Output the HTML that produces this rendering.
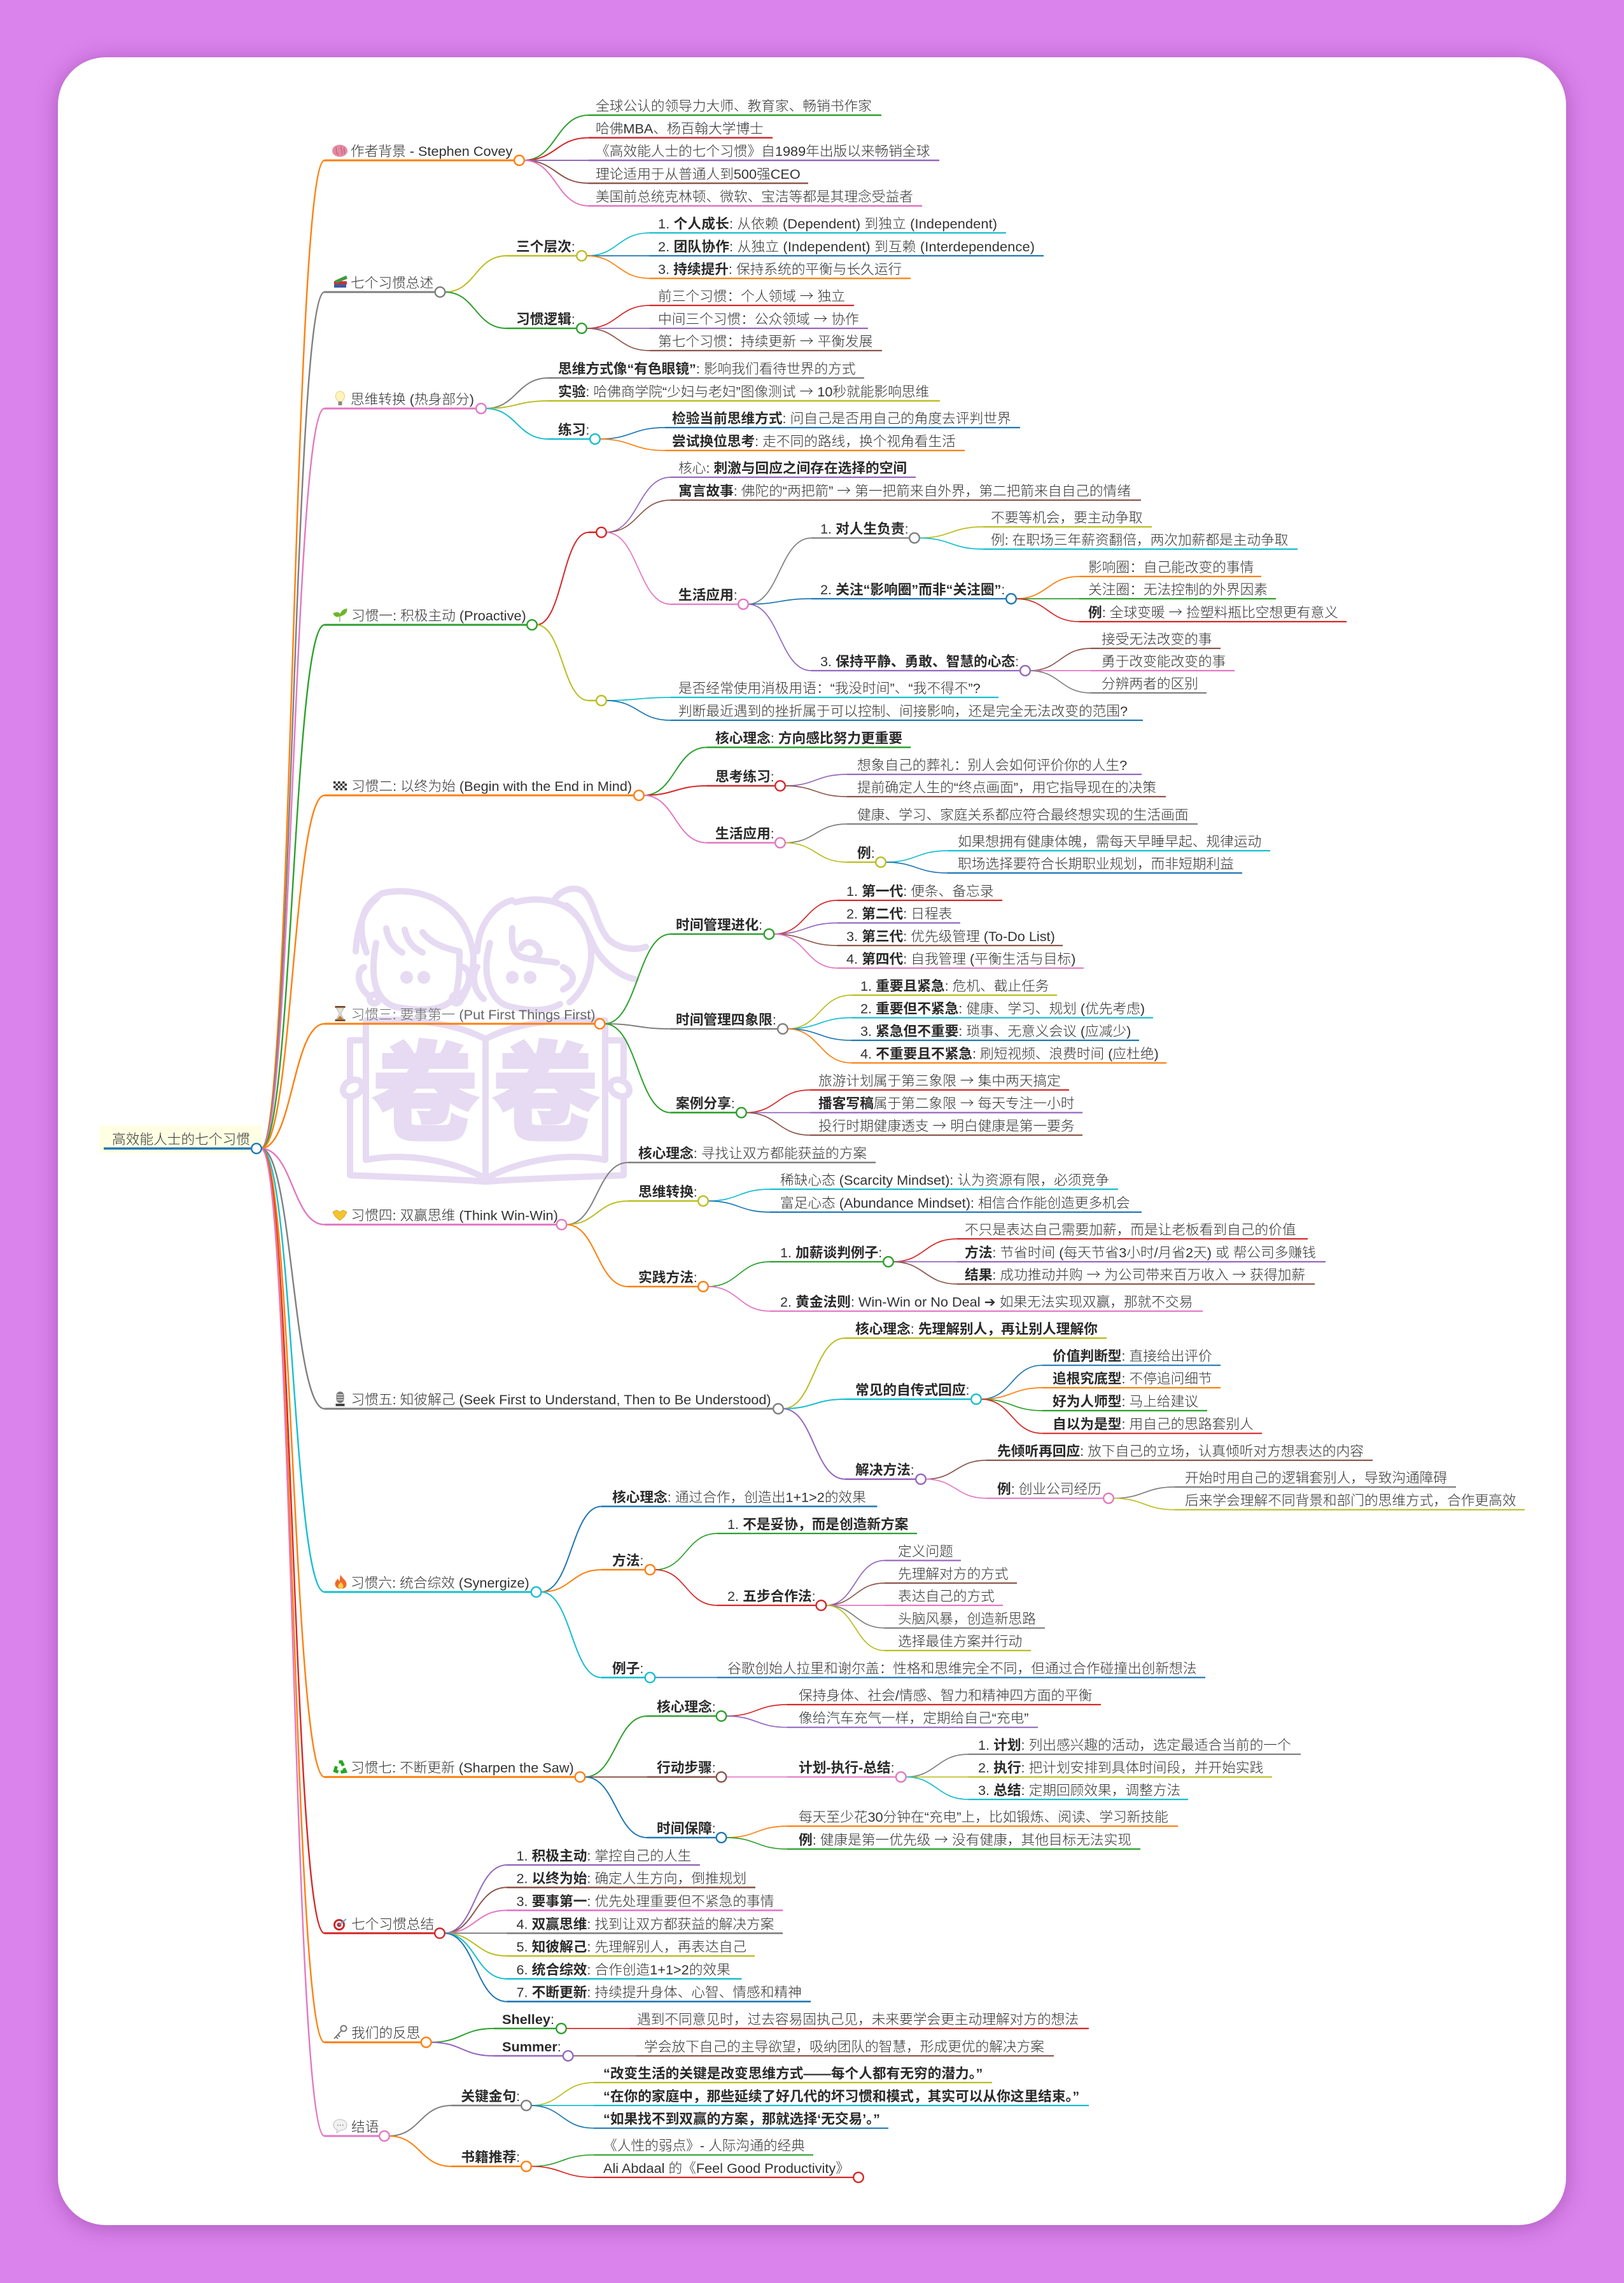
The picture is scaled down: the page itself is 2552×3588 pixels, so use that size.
<!DOCTYPE html>
<html lang="zh"><head><meta charset="utf-8"><title>高效能人士的七个习惯</title>
<style>
html,body{margin:0;padding:0;width:2552px;height:3588px;overflow:hidden;background:#db83ec}
#card{position:absolute;left:91px;top:90px;width:2370px;height:3407px;background:#fff;border-radius:75px;box-shadow:0 4px 34px rgba(90,20,110,.38)}
svg{position:absolute;left:0;top:0}
text{font-family:"Liberation Sans","Noto Sans CJK SC",sans-serif;font-size:21.7px;fill:#333;font-weight:300}
.b{font-weight:700;fill:#2a2a2a}
.a{font-family:"Noto Sans CJK SC",sans-serif}
circle.n{fill:#fff;stroke-width:2.4}
.k1{stroke-width:2.4}.k2{stroke-width:2}.k3{stroke-width:1.7}
.u1{stroke-width:3}.u2{stroke-width:2.6}.u3{stroke-width:2.2}
.B{stroke:#1f77b4}.O{stroke:#ff7f0e}.G{stroke:#2ca02c}.R{stroke:#d62728}.P{stroke:#9467bd}.W{stroke:#8c564b}.I{stroke:#e377c2}.Y{stroke:#7f7f7f}.L{stroke:#bcbd22}.C{stroke:#17becf}
.wm{fill:none;stroke:#e6dbf2;stroke-width:10;stroke-linecap:round;stroke-linejoin:round}
</style></head><body>
<div id="card"></div>
<svg width="2552" height="3588" viewBox="0 0 2552 3588" fill="none" xmlns="http://www.w3.org/2000/svg">
<!-- watermark -->
<g class="wm">
<path d="M576 1497C552 1430 590 1412 600 1404C660 1390 735 1420 744 1503C744 1530 738 1550 724 1572"/>
<path d="M559 1495C562 1450 575 1425 592 1412"/>
<path d="M591 1482C582 1530 586 1570 620 1582C660 1590 700 1590 716 1565C722 1540 722 1520 722 1495C695 1490 675 1480 664 1465"/>
<path d="M607 1459C610 1480 620 1490 632 1497M636 1461C640 1480 650 1490 664 1497"/>
<path d="M572 1520C560 1525 560 1550 580 1565M728 1520C742 1525 740 1550 722 1565"/>
<circle cx="588" cy="1570" r="7"/><circle cx="717" cy="1570" r="7"/>
<path d="M750 1495C752 1450 780 1420 805 1415M810 1418C880 1400 929 1440 929 1500C929 1530 915 1560 895 1575"/>
<path d="M770 1482C756 1530 770 1570 795 1580C830 1590 860 1590 880 1578M805 1459C803 1480 805 1500 822 1505C840 1510 860 1510 875 1513M818 1490C825 1475 845 1480 848 1495C848 1505 835 1510 825 1505"/>
<path d="M750 1520C742 1530 742 1555 760 1570M885 1520C905 1530 905 1545 885 1555"/>
<path d="M872 1413C880 1400 900 1392 915 1400C935 1415 935 1450 955 1475C970 1490 995 1495 1015 1488"/>
<path d="M890 1423C915 1440 925 1470 935 1490C950 1515 975 1535 999 1539"/>
<path d="M575 1604V1823C640 1810 710 1825 757 1849M951 1604V1823C890 1810 815 1825 770 1849"/>
<path d="M575 1604C640 1600 710 1605 763 1633C815 1605 885 1600 951 1604"/>
<path d="M763 1633V1857"/>
<path d="M575 1635H550V1692M550 1728V1847C620 1850 700 1852 763 1857C830 1852 910 1850 980 1847V1728M980 1692V1635H951"/>
<ellipse cx="554" cy="1710" rx="16" ry="12" transform="rotate(-30 554 1710)"/>
<ellipse cx="974" cy="1710" rx="16" ry="12" transform="rotate(30 974 1710)"/>
</g>
<circle cx="639" cy="1536" r="10" fill="#e6dbf2"/><circle cx="666" cy="1536" r="10" fill="#e6dbf2"/><circle cx="805" cy="1536" r="10" fill="#e6dbf2"/><circle cx="833" cy="1536" r="10" fill="#e6dbf2"/>
<text x="584" y="1778" style="font-size:168px;font-weight:900;fill:#e6dbf2;stroke:#e6dbf2;stroke-width:4;font-family:'Noto Sans CJK SC',sans-serif">卷</text>
<text x="773" y="1778" style="font-size:168px;font-weight:900;fill:#e6dbf2;stroke:#e6dbf2;stroke-width:4;font-family:'Noto Sans CJK SC',sans-serif">卷</text>

<!-- root -->
<rect x="156" y="1769" width="255" height="43" fill="#ffffe3"/>
<path class="B" stroke-width="3.4" d="M163 1805H403"/>

<!-- level 1 links -->
<g class="k1">
<path class="O" d="M410 1805C460 1805 460 252 510 252"/>
<path class="Y" d="M410 1805C460 1805 460 459 510 459"/>
<path class="I" d="M410 1805C460 1805 460 642 510 642"/>
<path class="G" d="M410 1805C460 1805 460 982 510 982"/>
<path class="O" d="M410 1805C460 1805 460 1250 510 1250"/>
<path class="O" d="M410 1805C460 1805 460 1609 510 1609"/>
<path class="I" d="M410 1805C460 1805 460 1924.6 510 1924.6"/>
<path class="Y" d="M410 1805C460 1805 460 2214 510 2214"/>
<path class="C" d="M410 1805C460 1805 460 2502 510 2502"/>
<path class="O" d="M410 1805C460 1805 460 2792.7 510 2792.7"/>
<path class="R" d="M410 1805C460 1805 460 3038.3 510 3038.3"/>
<path class="O" d="M410 1805C460 1805 460 3209.7 510 3209.7"/>
<path class="I" d="M410 1805C460 1805 460 3357 510 3357"/>
</g>
<g class="u1">
<path class="O" d="M510 252H816"/><path class="Y" d="M510 459H691"/><path class="I" d="M510 642H756"/><path class="G" d="M510 982H836"/><path class="O" d="M510 1250H1004"/><path class="O" d="M510 1609H942"/><path class="I" d="M510 1924.6H882"/><path class="Y" d="M510 2214H1223"/><path class="C" d="M510 2502H843"/><path class="O" d="M510 2792.7H911"/><path class="R" d="M510 3038.3H691"/><path class="O" d="M510 3209.7H670"/><path class="I" d="M510 3357H604"/>
</g>

<!-- level 2 links and underlines -->
<g class="k2">
<path class="G" d="M823 252C874 252 874 181 925 181"/><path class="R" d="M823 252C874 252 874 216.5 925 216.5"/><path class="P" d="M823 252H925"/><path class="W" d="M823 252C874 252 874 288 925 288"/><path class="I" d="M823 252C874 252 874 323.6 925 323.6"/>
<path class="L" d="M699 459C747 459 747 402 796 402"/><path class="G" d="M699 459C747 459 747 516 796 516"/>
<path class="Y" d="M763 642C812 642 812 594 862 594"/><path class="L" d="M763 642C812 642 812 630 862 630"/><path class="C" d="M763 642C812 642 812 690 862 690"/>
<path class="R" d="M843 982C884 982 884 836.6 925 836.6"/><path class="L" d="M843 982C884 982 884 1101 925 1101"/>
<path class="G" d="M1011 1250C1061 1250 1061 1174.5 1111 1174.5"/><path class="R" d="M1011 1250C1061 1250 1061 1235 1111 1235"/><path class="I" d="M1011 1250C1061 1250 1061 1324.5 1111 1324.5"/>
<path class="G" d="M950 1609C1002 1609 1002 1468 1054 1468"/><path class="Y" d="M950 1609C1002 1609 1002 1617 1054 1617"/><path class="G" d="M950 1609C1002 1609 1002 1748.6 1054 1748.6"/>
<path class="Y" d="M890 1924.6C938 1924.6 938 1827 987 1827"/><path class="L" d="M890 1924.6C938 1924.6 938 1887.5 987 1887.5"/><path class="O" d="M890 1924.6C938 1924.6 938 2022 987 2022"/>
<path class="L" d="M1230 2214C1279 2214 1279 2103 1328 2103"/><path class="C" d="M1230 2214C1279 2214 1279 2199 1328 2199"/><path class="P" d="M1230 2214C1279 2214 1279 2324.7 1328 2324.7"/>
<path class="B" d="M850 2502C898 2502 898 2367.5 945 2367.5"/><path class="O" d="M850 2502C898 2502 898 2467 945 2467"/><path class="C" d="M850 2502C898 2502 898 2636.4 945 2636.4"/>
<path class="G" d="M919 2792.7C968 2792.7 968 2697 1017 2697"/><path class="W" d="M919 2792.7H1017"/><path class="B" d="M919 2792.7C968 2792.7 968 2888 1017 2888"/>
<path class="P" d="M698 3038.3C747 3038.3 747 2931 796.5 2931"/><path class="W" d="M698 3038.3C747 3038.3 747 2966.3 796.5 2966.3"/><path class="I" d="M698 3038.3C747 3038.3 747 3002.3 796.5 3002.3"/><path class="Y" d="M698 3038.3H796.5"/><path class="L" d="M698 3038.3C747 3038.3 747 3074 796.5 3074"/><path class="C" d="M698 3038.3C747 3038.3 747 3110 796.5 3110"/><path class="B" d="M698 3038.3C747 3038.3 747 3145.7 796.5 3145.7"/>
<path class="G" d="M677 3209.7C726 3209.7 726 3188 776 3188"/><path class="P" d="M677 3209.7C726 3209.7 726 3231 776 3231"/>
<path class="Y" d="M611 3357C660 3357 660 3309 709.5 3309"/><path class="O" d="M611 3357C660 3357 660 3404.7 709.5 3404.7"/>
</g>
<g class="u2">
<path class="G" d="M925 181H1385"/><path class="R" d="M925 216.5H1214"/><path class="P" d="M925 252H1476"/><path class="W" d="M925 288H1270"/><path class="I" d="M925 323.6H1449"/>
<path class="L" d="M796 402H914"/><path class="G" d="M796 516H914"/>
<path class="Y" d="M862 594H1358"/><path class="L" d="M862 630H1477"/><path class="C" d="M862 690H935"/>
<path class="R" d="M925 836.6H945"/><path class="L" d="M925 1101H945"/>
<path class="G" d="M1111 1174.5H1431"/><path class="R" d="M1111 1235H1226"/><path class="I" d="M1111 1324.5H1226"/>
<path class="G" d="M1054 1468H1208"/><path class="Y" d="M1054 1617H1230"/><path class="G" d="M1054 1748.6H1165"/>
<path class="Y" d="M987 1827H1376"/><path class="L" d="M987 1887.5H1105"/><path class="O" d="M987 2022H1105"/>
<path class="L" d="M1328 2103H1739"/><path class="C" d="M1328 2199H1534"/><path class="P" d="M1328 2324.7H1447"/>
<path class="B" d="M945 2367.5H1378.5"/><path class="O" d="M945 2467H1021"/><path class="C" d="M945 2636.4H1021"/>
<path class="G" d="M1017 2697H1133"/><path class="W" d="M1017 2792.7H1133"/><path class="B" d="M1017 2888H1133"/>
<path class="P" d="M796.5 2931H1100"/><path class="W" d="M796.5 2966.3H1187"/><path class="I" d="M796.5 3002.3H1230"/><path class="Y" d="M796.5 3038.3H1230"/><path class="L" d="M796.5 3074H1186"/><path class="C" d="M796.5 3110H1165.5"/><path class="B" d="M796.5 3145.7H1274"/>
<path class="G" d="M776 3188H882"/><path class="P" d="M776 3231H893"/>
<path class="Y" d="M709.5 3309H827"/><path class="O" d="M709.5 3404.7H827"/>
</g>

<!-- level 3+ links -->
<g class="k3">
<path class="C" d="M922 402C971 402 971 366 1021 366"/><path class="B" d="M922 402H1021"/><path class="O" d="M922 402C971 402 971 437.5 1021 437.5"/>
<path class="R" d="M922 516C971 516 971 480 1021 480"/><path class="P" d="M922 516H1021"/><path class="W" d="M922 516C971 516 971 551 1021 551"/>
<path class="B" d="M942 690C993 690 993 672 1045 672"/><path class="O" d="M942 690C993 690 993 708 1045 708"/>
<path class="P" d="M952 836.6C1003 836.6 1003 750 1054 750"/><path class="W" d="M952 836.6C1003 836.6 1003 786 1054 786"/><path class="I" d="M952 836.6C1003 836.6 1003 949.6 1054 949.6"/>
<path class="Y" d="M1175 949.6C1225 949.6 1225 845.5 1275 845.5"/><path class="B" d="M1175 949.6C1225 949.6 1225 941 1275 941"/><path class="P" d="M1175 949.6C1225 949.6 1225 1054 1275 1054"/>
<path class="L" d="M1444 845.5C1494 845.5 1494 828 1545 828"/><path class="C" d="M1444 845.5C1494 845.5 1494 863 1545 863"/>
<path class="O" d="M1596 941C1646 941 1646 906 1696 906"/><path class="G" d="M1596 941H1696"/><path class="R" d="M1596 941C1646 941 1646 977 1696 977"/>
<path class="W" d="M1618 1054C1666 1054 1666 1019 1714 1019"/><path class="I" d="M1618 1054H1714"/><path class="Y" d="M1618 1054C1666 1054 1666 1089 1714 1089"/>
<path class="C" d="M952 1101C1003 1101 1003 1096 1054 1096"/><path class="B" d="M952 1101C1003 1101 1003 1132 1054 1132"/>
<path class="P" d="M1233 1235C1282 1235 1282 1217 1331 1217"/><path class="W" d="M1233 1235C1282 1235 1282 1252 1331 1252"/>
<path class="Y" d="M1233 1324.5C1282 1324.5 1282 1295 1331 1295"/><path class="L" d="M1233 1324.5C1282 1324.5 1282 1355 1331 1355"/>
<path class="C" d="M1391 1355C1440 1355 1440 1337 1489 1337"/><path class="B" d="M1391 1355C1440 1355 1440 1372 1489 1372"/>
<path class="R" d="M1216 1468C1266 1468 1266 1415 1316 1415"/><path class="P" d="M1216 1468C1266 1468 1266 1450.5 1316 1450.5"/><path class="W" d="M1216 1468C1266 1468 1266 1486 1316 1486"/><path class="I" d="M1216 1468C1266 1468 1266 1521.5 1316 1521.5"/>
<path class="L" d="M1237 1617C1288 1617 1288 1564 1338 1564"/><path class="C" d="M1237 1617C1288 1617 1288 1599.5 1338 1599.5"/><path class="B" d="M1237 1617C1288 1617 1288 1635 1338 1635"/><path class="O" d="M1237 1617C1288 1617 1288 1670.5 1338 1670.5"/>
<path class="R" d="M1172 1748.6C1222 1748.6 1222 1713 1273 1713"/><path class="P" d="M1172 1748.6H1273"/><path class="W" d="M1172 1748.6C1222 1748.6 1222 1784 1273 1784"/>
<path class="C" d="M1112 1887.5C1161 1887.5 1161 1869 1210 1869"/><path class="B" d="M1112 1887.5C1161 1887.5 1161 1905 1210 1905"/>
<path class="G" d="M1112 2022C1161 2022 1161 1983 1210 1983"/><path class="I" d="M1112 2022C1161 2022 1161 2060.6 1210 2060.6"/>
<path class="R" d="M1403 1983C1453 1983 1453 1947 1504 1947"/><path class="P" d="M1403 1983H1504"/><path class="W" d="M1403 1983C1453 1983 1453 2018 1504 2018"/>
<path class="B" d="M1541 2199C1590 2199 1590 2145.7 1638 2145.7"/><path class="O" d="M1541 2199C1590 2199 1590 2181 1638 2181"/><path class="G" d="M1541 2199C1590 2199 1590 2217 1638 2217"/><path class="R" d="M1541 2199C1590 2199 1590 2252.7 1638 2252.7"/>
<path class="W" d="M1454 2324.7C1502 2324.7 1502 2295 1550 2295"/><path class="I" d="M1454 2324.7C1502 2324.7 1502 2354.7 1550 2354.7"/>
<path class="Y" d="M1749 2354.7C1798 2354.7 1798 2337 1846 2337"/><path class="L" d="M1749 2354.7C1798 2354.7 1798 2372.7 1846 2372.7"/>
<path class="G" d="M1029 2467C1078 2467 1078 2410 1127 2410"/><path class="R" d="M1029 2467C1078 2467 1078 2523 1127 2523"/>
<path class="P" d="M1298 2523C1344 2523 1344 2452.5 1390 2452.5"/><path class="W" d="M1298 2523C1344 2523 1344 2488 1390 2488"/><path class="I" d="M1298 2523H1390"/><path class="Y" d="M1298 2523C1344 2523 1344 2558.6 1390 2558.6"/><path class="L" d="M1298 2523C1344 2523 1344 2594 1390 2594"/>
<path class="B" d="M1029 2636.4H1127"/>
<path class="R" d="M1141 2697C1189 2697 1189 2679 1237 2679"/><path class="P" d="M1141 2697C1189 2697 1189 2714.7 1237 2714.7"/>
<path class="I" d="M1141 2792.7H1237"/>
<path class="Y" d="M1423 2792.7C1472 2792.7 1472 2757 1522 2757"/><path class="L" d="M1423 2792.7H1522"/><path class="C" d="M1423 2792.7C1472 2792.7 1472 2828 1522 2828"/>
<path class="O" d="M1141 2888C1189 2888 1189 2870 1237 2870"/><path class="G" d="M1141 2888C1189 2888 1189 2906 1237 2906"/>
<path class="R" d="M889 3188H990"/><path class="W" d="M900 3231H1000"/>
<path class="L" d="M834 3309C883 3309 883 3273 933 3273"/><path class="C" d="M834 3309H933"/><path class="B" d="M834 3309C883 3309 883 3344.7 933 3344.7"/>
<path class="G" d="M834 3404.7C883 3404.7 883 3386.7 933 3386.7"/><path class="R" d="M834 3404.7C883 3404.7 883 3422 933 3422"/>
</g>
<g class="u3">
<path class="C" d="M1021 366H1581"/><path class="B" d="M1021 402H1640"/><path class="O" d="M1021 437.5H1431"/><path class="R" d="M1021 480H1342"/><path class="P" d="M1021 516H1364"/><path class="W" d="M1021 551H1386"/>
<path class="B" d="M1045 672H1603"/><path class="O" d="M1045 708H1516"/>
<path class="P" d="M1054 750H1439"/><path class="W" d="M1054 786H1793"/><path class="I" d="M1054 949.6H1168"/>
<path class="Y" d="M1275 845.5H1437"/><path class="B" d="M1275 941H1589"/><path class="P" d="M1275 1054H1611"/>
<path class="L" d="M1545 828H1810"/><path class="C" d="M1545 863H2039"/>
<path class="O" d="M1696 906H1982"/><path class="G" d="M1696 941H2005"/><path class="R" d="M1696 977H2116"/>
<path class="W" d="M1714 1019H1918"/><path class="I" d="M1714 1054H1940"/><path class="Y" d="M1714 1089H1896"/>
<path class="C" d="M1054 1096H1569"/><path class="B" d="M1054 1132H1796"/>
<path class="P" d="M1331 1217H1794"/><path class="W" d="M1331 1252H1832"/><path class="Y" d="M1331 1295H1882"/><path class="L" d="M1331 1355H1384"/>
<path class="C" d="M1489 1337H1996"/><path class="B" d="M1489 1372H1952"/>
<path class="R" d="M1316 1415H1575"/><path class="P" d="M1316 1450.5H1509"/><path class="W" d="M1316 1486H1670"/><path class="I" d="M1316 1521.5H1703"/>
<path class="L" d="M1338 1564H1661"/><path class="C" d="M1338 1599.5H1812"/><path class="B" d="M1338 1635H1790"/><path class="O" d="M1338 1670.5H1833"/>
<path class="R" d="M1273 1713H1680"/><path class="P" d="M1273 1748.6H1701"/><path class="W" d="M1273 1784H1701"/>
<path class="C" d="M1210 1869H1757"/><path class="B" d="M1210 1905H1794"/><path class="G" d="M1210 1983H1396"/><path class="I" d="M1210 2060.6H1890"/>
<path class="R" d="M1504 1947H2055"/><path class="P" d="M1504 1983H2083"/><path class="W" d="M1504 2018H2066"/>
<path class="B" d="M1638 2145.7H1918"/><path class="O" d="M1638 2181H1918"/><path class="G" d="M1638 2217H1897"/><path class="R" d="M1638 2252.7H1983"/>
<path class="W" d="M1550 2295H2157"/><path class="I" d="M1550 2354.7H1742"/>
<path class="Y" d="M1846 2337H2288"/><path class="L" d="M1846 2372.7H2396"/>
<path class="G" d="M1127 2410H1441"/><path class="R" d="M1127 2523H1290"/>
<path class="P" d="M1390 2452.5H1510"/><path class="W" d="M1390 2488H1598"/><path class="I" d="M1390 2523H1576"/><path class="Y" d="M1390 2558.6H1642"/><path class="L" d="M1390 2594H1620"/>
<path class="B" d="M1127 2636.4H1894"/>
<path class="R" d="M1237 2679H1730"/><path class="P" d="M1237 2714.7H1631"/><path class="I" d="M1237 2792.7H1416"/>
<path class="Y" d="M1522 2757H2044"/><path class="L" d="M1522 2792.7H1999"/><path class="C" d="M1522 2828H1867"/>
<path class="O" d="M1237 2870H1851"/><path class="G" d="M1237 2906H1792"/>
<path class="R" d="M990 3188H1711"/><path class="W" d="M1000 3231H1656"/>
<path class="L" d="M933 3273H1559"/><path class="C" d="M933 3309H1711"/><path class="B" d="M933 3344.7H1396"/>
<path class="G" d="M933 3386.7H1278"/><path class="R" d="M933 3422H1349"/>
</g>

<!-- circles -->
<g>
<circle class="n B" cx="403" cy="1805" r="7.8"/>
<circle class="n O" cx="816" cy="252" r="7.8"/><circle class="n Y" cx="691.5" cy="459" r="7.8"/><circle class="n I" cx="756" cy="642" r="7.8"/><circle class="n G" cx="836" cy="982" r="7.8"/><circle class="n O" cx="1004" cy="1250" r="7.8"/><circle class="n O" cx="942.5" cy="1609" r="7.8"/><circle class="n I" cx="882.5" cy="1924.6" r="7.8"/><circle class="n Y" cx="1223" cy="2214" r="7.8"/><circle class="n C" cx="842.6" cy="2502" r="7.8"/><circle class="n O" cx="911.5" cy="2792.7" r="7.8"/><circle class="n R" cx="691" cy="3038.3" r="7.8"/><circle class="n O" cx="669.7" cy="3209.7" r="7.8"/><circle class="n I" cx="604" cy="3357" r="7.8"/>
<circle class="n L" cx="914" cy="402" r="7.8"/><circle class="n G" cx="914" cy="516" r="7.8"/><circle class="n C" cx="935" cy="690" r="7.8"/>
<circle class="n R" cx="945" cy="836.6" r="7.8"/><circle class="n L" cx="945" cy="1101" r="7.8"/><circle class="n I" cx="1168" cy="949.6" r="7.8"/><circle class="n Y" cx="1437" cy="845.5" r="7.8"/><circle class="n B" cx="1589" cy="941" r="7.8"/><circle class="n P" cx="1611" cy="1054" r="7.8"/>
<circle class="n R" cx="1226" cy="1235" r="7.8"/><circle class="n I" cx="1226" cy="1324.5" r="7.8"/><circle class="n L" cx="1384" cy="1355" r="7.8"/>
<circle class="n G" cx="1208.5" cy="1468" r="7.8"/><circle class="n Y" cx="1230" cy="1617" r="7.8"/><circle class="n G" cx="1165" cy="1748.6" r="7.8"/>
<circle class="n L" cx="1105" cy="1887.5" r="7.8"/><circle class="n O" cx="1105" cy="2022" r="7.8"/><circle class="n G" cx="1396" cy="1983" r="7.8"/>
<circle class="n C" cx="1534" cy="2199" r="7.8"/><circle class="n P" cx="1447" cy="2324.7" r="7.8"/><circle class="n I" cx="1742" cy="2354.7" r="7.8"/>
<circle class="n O" cx="1021.5" cy="2467" r="7.8"/><circle class="n R" cx="1290.4" cy="2523" r="7.8"/><circle class="n C" cx="1021.5" cy="2636.4" r="7.8"/>
<circle class="n G" cx="1133.5" cy="2697" r="7.8"/><circle class="n W" cx="1133.5" cy="2792.7" r="7.8"/><circle class="n I" cx="1415.8" cy="2792.7" r="7.8"/><circle class="n B" cx="1133.5" cy="2888" r="7.8"/>
<circle class="n G" cx="882" cy="3188" r="7.8"/><circle class="n P" cx="892.7" cy="3231" r="7.8"/><circle class="n Y" cx="827" cy="3309" r="7.8"/><circle class="n O" cx="827" cy="3404.7" r="7.8"/><circle class="n R" cx="1349" cy="3422" r="7.8"/>
</g>

<!-- emoji -->
<g>
<g transform="translate(534,237)"><ellipse rx="12" ry="9.5" fill="#e58aa3"/><path d="M-6-6C-4 0-8 3-2 6M2-7C0-2 6 0 3 6M7-5C5-1 9 1 7 4" stroke="#bf5f7c" stroke-width="1.2"/></g>
<g transform="translate(535,443)"><rect x="-10" y="-1" width="20" height="5" fill="#c8333a"/><rect x="-10" y="4" width="19" height="5" fill="#3d5aa8"/><path d="M-9-2L9-10L11-5L-6 2Z" fill="#3f9b3f"/></g>
<g transform="translate(534.5,626)"><ellipse cy="-3" rx="7" ry="8" fill="#fff4c0" stroke="#e5cf78" stroke-width="1"/><rect x="-3" y="5" width="6" height="6" fill="#888"/></g>
<g transform="translate(534,967)"><path d="M0 10V-1C-1-5-5-5-10-3C-8 2-4 3 0 1C1-5 5-9 11-10C11-4 7 0 0 1" fill="#6fb52c" stroke="#6fb52c" stroke-width="1.2"/></g>
<g transform="translate(524,1228)"><rect width="21" height="15" fill="#eee"/><path d="M0 0h3.5v3.5H0zM7 0h3.5v3.5H7zM14 0h3.5v3.5H14zM3.5 3.5H7V7H3.5zM10.5 3.5H14V7h-3.5zM17.5 3.5H21V7h-3.5zM0 7h3.5v3.5H0zM7 7h3.5v3.5H7zM14 7h3.5v3.5H14zM3.5 10.5H7V14H3.5zM10.5 10.5H14V14h-3.5zM17.5 10.5H21V14h-3.5z" fill="#333"/></g>
<g transform="translate(534.5,1593)"><rect x="-8" y="-12" width="16" height="3" fill="#7a4a26"/><rect x="-8" y="9" width="16" height="3" fill="#7a4a26"/><path d="M-6-9H6L1 0L6 9H-6L-1 0Z" fill="#e9e2d2" stroke="#aaa" stroke-width=".8"/><path d="M-5 9L0 3L5 9Z" fill="#b9803c"/></g>
<path d="M523 1905L529 1902L534 1905L539 1902L545 1905L541 1912L534 1918L527 1912Z" fill="#f4c430" stroke="#d9a520" stroke-width="1"/>
<g transform="translate(534.5,2198)"><rect x="-6" y="-11" width="12" height="18" rx="6" fill="#777"/><path d="M-5-6H5M-5-2H5M-5 2H5" stroke="#ddd" stroke-width="1.4"/><rect x="-7" y="8" width="14" height="4" fill="#444"/></g>
<g transform="translate(535.5,2486)"><path d="M0-11C2-5 9-3 9 4C9 9 5 11 0 11C-5 11-9 8-9 3C-9-1-6-2-5-5C-3-3-3-1-2-1C-1-4-2-8 0-11Z" fill="#f0692b"/><path d="M0 0C2 3 4 4 4 7C4 10 2 11 0 11C-2 11-4 9-4 7C-4 4-1 3 0 0Z" fill="#fbd24a"/></g>
<g transform="translate(534.5,2777)" stroke="#23a523" stroke-width="5"><path d="M-2-8L2-8L5-2"/><path d="M6 2L8 7L1 8"/><path d="M-3 8L-8 6L-6-1"/></g>
<g transform="translate(533,3025)"><circle r="9" fill="#c9262c"/><circle r="6" fill="#fff"/><circle r="3.5" fill="#c9262c"/><path d="M0 0L11-9" stroke="#5ba4c8" stroke-width="2"/></g>
<g transform="translate(534,3194)" stroke="#777" stroke-width="2"><circle cx="6" cy="-6" r="4.5"/><path d="M3-3L-9 10M-6 7L-3 10M-3 4L0 7"/></g>
<g transform="translate(534,3341)"><path d="M-10-1C-10-7-5-10 0-10C6-10 11-7 11-1C11 5 6 7 1 7L-5 11L-4 6C-8 5-10 2-10-1Z" fill="#f1f1f1" stroke="#bbb" stroke-width="1"/><path d="M-4-1h1.5M0-1h1.5M4-1h1.5" stroke="#777" stroke-width="1.6"/></g>
</g>

<!-- text -->
<g>
<text x="176" y="1798">高效能人士的七个习惯</text>
<text x="551" y="245">作者背景 - Stephen Covey</text>
<text x="936" y="174">全球公认的领导力大师、教育家、畅销书作家</text>
<text x="936" y="209.5">哈佛MBA、杨百翰大学博士</text>
<text x="936" y="245">《高效能人士的七个习惯》自1989年出版以来畅销全球</text>
<text x="936" y="281">理论适用于从普通人到500强CEO</text>
<text x="936" y="316.6">美国前总统克林顿、微软、宝洁等都是其理念受益者</text>

<text x="551" y="452">七个习惯总述</text>
<text x="811" y="395"><tspan class="b">三个层次</tspan>:</text>
<text x="1034" y="359" textLength="533">1. <tspan class="b">个人成长</tspan>: 从依赖 (Dependent) 到独立 (Independent)</text>
<text x="1034" y="395" textLength="592">2. <tspan class="b">团队协作</tspan>: 从独立 (Independent) 到互赖 (Interdependence)</text>
<text x="1034" y="430.5">3. <tspan class="b">持续提升</tspan>: 保持系统的平衡与长久运行</text>
<text x="811" y="509"><tspan class="b">习惯逻辑</tspan>:</text>
<text x="1034" y="473">前三个习惯：个人领域 <tspan class="a">→</tspan> 独立</text>
<text x="1034" y="509">中间三个习惯：公众领域 <tspan class="a">→</tspan> 协作</text>
<text x="1034" y="544">第七个习惯：持续更新 <tspan class="a">→</tspan> 平衡发展</text>

<text x="551" y="635">思维转换 (热身部分)</text>
<text x="877" y="587"><tspan class="b">思维方式像“有色眼镜”</tspan>: 影响我们看待世界的方式</text>
<text x="877" y="623"><tspan class="b">实验</tspan>: 哈佛商学院“少妇与老妇”图像测试 <tspan class="a">→</tspan> 10秒就能影响思维</text>
<text x="877" y="683"><tspan class="b">练习</tspan>:</text>
<text x="1056" y="665"><tspan class="b">检验当前思维方式</tspan>: 问自己是否用自己的角度去评判世界</text>
<text x="1056" y="701"><tspan class="b">尝试换位思考</tspan>: 走不同的路线，换个视角看生活</text>

<text x="552" y="975">习惯一: 积极主动 (Proactive)</text>
<text x="1066" y="743">核心: <tspan class="b">刺激与回应之间存在选择的空间</tspan></text>
<text x="1066" y="779"><tspan class="b">寓言故事</tspan>: 佛陀的“两把箭” <tspan class="a">→</tspan> 第一把箭来自外界，第二把箭来自自己的情绪</text>
<text x="1066" y="942.6"><tspan class="b">生活应用</tspan>:</text>
<text x="1289" y="838.5">1. <tspan class="b">对人生负责</tspan>:</text>
<text x="1557" y="821">不要等机会，要主动争取</text>
<text x="1557" y="856">例: 在职场三年薪资翻倍，两次加薪都是主动争取</text>
<text x="1289" y="934">2. <tspan class="b">关注“影响圈”而非“关注圈”</tspan>:</text>
<text x="1710" y="899">影响圈：自己能改变的事情</text>
<text x="1710" y="934">关注圈：无法控制的外界因素</text>
<text x="1710" y="970"><tspan class="b">例</tspan>: 全球变暖 <tspan class="a">→</tspan> 捡塑料瓶比空想更有意义</text>
<text x="1289" y="1047">3. <tspan class="b">保持平静、勇敢、智慧的心态</tspan>:</text>
<text x="1731" y="1012">接受无法改变的事</text>
<text x="1731" y="1047">勇于改变能改变的事</text>
<text x="1731" y="1082">分辨两者的区别</text>
<text x="1066" y="1089">是否经常使用消极用语：“我没时间”、“我不得不”?</text>
<text x="1066" y="1125">判断最近遇到的挫折属于可以控制、间接影响，还是完全无法改变的范围?</text>

<text x="552" y="1243">习惯二: 以终为始 (Begin with the End in Mind)</text>
<text x="1124" y="1167.5"><tspan class="b">核心理念</tspan>: <tspan class="b">方向感比努力更重要</tspan></text>
<text x="1124" y="1228"><tspan class="b">思考练习</tspan>:</text>
<text x="1347" y="1210">想象自己的葬礼：别人会如何评价你的人生?</text>
<text x="1347" y="1245">提前确定人生的“终点画面”，用它指导现在的决策</text>
<text x="1124" y="1317.5"><tspan class="b">生活应用</tspan>:</text>
<text x="1347" y="1288">健康、学习、家庭关系都应符合最终想实现的生活画面</text>
<text x="1347" y="1348"><tspan class="b">例</tspan>:</text>
<text x="1505" y="1330">如果想拥有健康体魄，需每天早睡早起、规律运动</text>
<text x="1505" y="1365">职场选择要符合长期职业规划，而非短期利益</text>

<text x="551.5" y="1602" style="fill:#666">习惯三: 要事第一 (Put First Things First)</text>
<text x="1062" y="1461"><tspan class="b">时间管理进化</tspan>:</text>
<text x="1330" y="1408">1. <tspan class="b">第一代</tspan>: 便条、备忘录</text>
<text x="1330" y="1443.5">2. <tspan class="b">第二代</tspan>: 日程表</text>
<text x="1330" y="1479">3. <tspan class="b">第三代</tspan>: 优先级管理 (To-Do List)</text>
<text x="1330" y="1514.5">4. <tspan class="b">第四代</tspan>: 自我管理 (平衡生活与目标)</text>
<text x="1062" y="1610"><tspan class="b">时间管理四象限</tspan>:</text>
<text x="1352" y="1557">1. <tspan class="b">重要且紧急</tspan>: 危机、截止任务</text>
<text x="1352" y="1592.5">2. <tspan class="b">重要但不紧急</tspan>: 健康、学习、规划 (优先考虑)</text>
<text x="1352" y="1628">3. <tspan class="b">紧急但不重要</tspan>: 琐事、无意义会议 (应减少)</text>
<text x="1352" y="1663.5">4. <tspan class="b">不重要且不紧急</tspan>: 刷短视频、浪费时间 (应杜绝)</text>
<text x="1062" y="1741.6"><tspan class="b">案例分享</tspan>:</text>
<text x="1286" y="1706">旅游计划属于第三象限 <tspan class="a">→</tspan> 集中两天搞定</text>
<text x="1286" y="1741.6"><tspan class="b">播客写稿</tspan>属于第二象限 <tspan class="a">→</tspan> 每天专注一小时</text>
<text x="1286" y="1777">投行时期健康透支 <tspan class="a">→</tspan> 明白健康是第一要务</text>

<text x="551.5" y="1917.6">习惯四: 双赢思维 (Think Win-Win)</text>
<text x="1003" y="1820"><tspan class="b">核心理念</tspan>: 寻找让双方都能获益的方案</text>
<text x="1003" y="1880.5"><tspan class="b">思维转换</tspan>:</text>
<text x="1226" y="1862">稀缺心态 (Scarcity Mindset): 认为资源有限，必须竞争</text>
<text x="1226" y="1898">富足心态 (Abundance Mindset): 相信合作能创造更多机会</text>
<text x="1003" y="2015"><tspan class="b">实践方法</tspan>:</text>
<text x="1226" y="1976">1. <tspan class="b">加薪谈判例子</tspan>:</text>
<text x="1516" y="1940">不只是表达自己需要加薪，而是让老板看到自己的价值</text>
<text x="1516" y="1976"><tspan class="b">方法</tspan>: 节省时间 (每天节省3小时/月省2天) 或 帮公司多赚钱</text>
<text x="1516" y="2011"><tspan class="b">结果</tspan>: 成功推动并购 <tspan class="a">→</tspan> 为公司带来百万收入 <tspan class="a">→</tspan> 获得加薪</text>
<text x="1226" y="2053.6">2. <tspan class="b">黄金法则</tspan>: Win-Win or No Deal ➔ 如果无法实现双赢，那就不交易</text>

<text x="551.5" y="2207">习惯五: 知彼解己 (Seek First to Understand, Then to Be Understood)</text>
<text x="1344" y="2096"><tspan class="b">核心理念</tspan>: <tspan class="b">先理解别人，再让别人理解你</tspan></text>
<text x="1344" y="2192"><tspan class="b">常见的自传式回应</tspan>:</text>
<text x="1654" y="2138.7"><tspan class="b">价值判断型</tspan>: 直接给出评价</text>
<text x="1654" y="2174"><tspan class="b">追根究底型</tspan>: 不停追问细节</text>
<text x="1654" y="2210"><tspan class="b">好为人师型</tspan>: 马上给建议</text>
<text x="1654" y="2245.7"><tspan class="b">自以为是型</tspan>: 用自己的思路套别人</text>
<text x="1344" y="2317.7"><tspan class="b">解决方法</tspan>:</text>
<text x="1567" y="2288"><tspan class="b">先倾听再回应</tspan>: 放下自己的立场，认真倾听对方想表达的内容</text>
<text x="1567" y="2347.7"><tspan class="b">例</tspan>: 创业公司经历</text>
<text x="1862" y="2330">开始时用自己的逻辑套别人，导致沟通障碍</text>
<text x="1862" y="2365.7">后来学会理解不同背景和部门的思维方式，合作更高效</text>

<text x="551" y="2495">习惯六: 统合综效 (Synergize)</text>
<text x="962" y="2360.5"><tspan class="b">核心理念</tspan>: 通过合作，创造出1+1&gt;2的效果</text>
<text x="962" y="2460"><tspan class="b">方法</tspan>:</text>
<text x="1143" y="2403">1. <tspan class="b">不是妥协，而是创造新方案</tspan></text>
<text x="1143" y="2516">2. <tspan class="b">五步合作法</tspan>:</text>
<text x="1411" y="2445.5">定义问题</text>
<text x="1411" y="2481">先理解对方的方式</text>
<text x="1411" y="2516">表达自己的方式</text>
<text x="1411" y="2551.6">头脑风暴，创造新思路</text>
<text x="1411" y="2587">选择最佳方案并行动</text>
<text x="962" y="2629.4"><tspan class="b">例子</tspan>:</text>
<text x="1143" y="2629.4">谷歌创始人拉里和谢尔盖：性格和思维完全不同，但通过合作碰撞出创新想法</text>

<text x="551" y="2785.7">习惯七: 不断更新 (Sharpen the Saw)</text>
<text x="1032" y="2690"><tspan class="b">核心理念</tspan>:</text>
<text x="1255" y="2672">保持身体、社会/情感、智力和精神四方面的平衡</text>
<text x="1255" y="2707.7">像给汽车充气一样，定期给自己“充电”</text>
<text x="1032" y="2785.7"><tspan class="b">行动步骤</tspan>:</text>
<text x="1255" y="2785.7"><tspan class="b">计划-执行-总结</tspan>:</text>
<text x="1537" y="2750">1. <tspan class="b">计划</tspan>: 列出感兴趣的活动，选定最适合当前的一个</text>
<text x="1537" y="2785.7">2. <tspan class="b">执行</tspan>: 把计划安排到具体时间段，并开始实践</text>
<text x="1537" y="2821">3. <tspan class="b">总结</tspan>: 定期回顾效果，调整方法</text>
<text x="1032" y="2881"><tspan class="b">时间保障</tspan>:</text>
<text x="1255" y="2863">每天至少花30分钟在“充电”上，比如锻炼、阅读、学习新技能</text>
<text x="1255" y="2899"><tspan class="b">例</tspan>: 健康是第一优先级 <tspan class="a">→</tspan> 没有健康，其他目标无法实现</text>

<text x="552" y="3031.3">七个习惯总结</text>
<text x="811.5" y="2924">1. <tspan class="b">积极主动</tspan>: 掌控自己的人生</text>
<text x="811.5" y="2959.3">2. <tspan class="b">以终为始</tspan>: 确定人生方向，倒推规划</text>
<text x="811.5" y="2995.3">3. <tspan class="b">要事第一</tspan>: 优先处理重要但不紧急的事情</text>
<text x="811.5" y="3031.3">4. <tspan class="b">双赢思维</tspan>: 找到让双方都获益的解决方案</text>
<text x="811.5" y="3067">5. <tspan class="b">知彼解己</tspan>: 先理解别人，再表达自己</text>
<text x="811.5" y="3103">6. <tspan class="b">统合综效</tspan>: 合作创造1+1&gt;2的效果</text>
<text x="811.5" y="3138.7">7. <tspan class="b">不断更新</tspan>: 持续提升身体、心智、情感和精神</text>

<text x="552" y="3202.7">我们的反思</text>
<text x="789" y="3181"><tspan class="b">Shelley</tspan>:</text>
<text x="1001" y="3181">遇到不同意见时，过去容易固执己见，未来要学会更主动理解对方的想法</text>
<text x="789" y="3224"><tspan class="b">Summer</tspan>:</text>
<text x="1012" y="3224">学会放下自己的主导欲望，吸纳团队的智慧，形成更优的解决方案</text>

<text x="552" y="3350">结语</text>
<text x="724.4" y="3302"><tspan class="b">关键金句</tspan>:</text>
<text x="948" y="3266"><tspan class="b">“改变生活的关键是改变思维方式——每个人都有无穷的潜力。”</tspan></text>
<text x="948" y="3302"><tspan class="b">“在你的家庭中，那些延续了好几代的坏习惯和模式，其实可以从你这里结束。”</tspan></text>
<text x="948" y="3337.7"><tspan class="b">“如果找不到双赢的方案，那就选择‘无交易’。”</tspan></text>
<text x="724.4" y="3397.7"><tspan class="b">书籍推荐</tspan>:</text>
<text x="948" y="3379.7">《人性的弱点》- 人际沟通的经典</text>
<text x="948" y="3415">Ali Abdaal 的《Feel Good Productivity》</text>
</g>
</svg>
</body></html>
